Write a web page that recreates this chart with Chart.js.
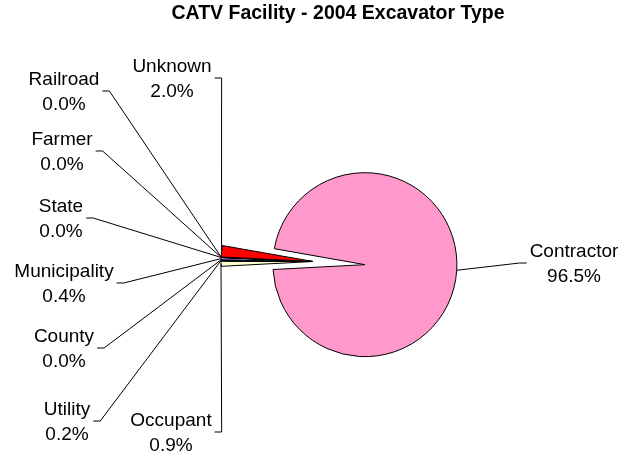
<!DOCTYPE html>
<html>
<head>
<meta charset="utf-8">
<title>CATV Facility - 2004 Excavator Type</title>
<script src="https://cdn.jsdelivr.net/npm/chart.js@4.4.1/dist/chart.umd.min.js"></script>
<style>
  html, body { margin: 0; padding: 0; background: #fff; }
  #wrap { position: relative; width: 631px; height: 456px; }
</style>
</head>
<body>
<div id="wrap"><canvas id="excavatorPie"></canvas></div>
<script>
// -----------------------------
// Data (percent; "0.0%" slices are tiny, not empty)
// -----------------------------
const chartTitle = 'CATV Facility - 2004 Excavator Type';
const categories = ['Contractor', 'Occupant', 'Utility', 'County', 'Municipality', 'State', 'Farmer', 'Railroad', 'Unknown'];
const percentValues = [96.5, 0.9, 0.2, 0.03, 0.4, 0.03, 0.03, 0.03, 2.0];
const sliceColors = ['#FF99CC', '#FFFFCC', '#000080', '#CCFFFF', '#9999FF', '#660066', '#FF8080', '#0066CC', '#FF0000'];

// -----------------------------
// Label layout: centre of the first text line, side where the leader starts
// -----------------------------
const labelLayout = [
    { x: 574, y: 252, side: 'left' },   // Contractor
    { x: 171, y: 421, side: 'right' },  // Occupant
    { x: 67,  y: 410, side: 'right' },  // Utility
    { x: 64,  y: 337, side: 'right' },  // County
    { x: 64,  y: 272, side: 'right' },  // Municipality
    { x: 61,  y: 207, side: 'right' },  // State
    { x: 62,  y: 140, side: 'right' },  // Farmer
    { x: 64,  y: 80,  side: 'right' },  // Railroad
    { x: 172, y: 67,  side: 'right' }   // Unknown
];
const titlePos = { x: 338, y: 14 };

const fontFamily = '"Liberation Sans", Arial, sans-serif';
const labelFont = '19px ' + fontFamily;
const titleFont = 'bold 19.5px ' + fontFamily;
const lineStep = 24.5;
const tickDrop = 11;
const explodeDistance = 52;

// Contractor slice pulled away from the rest
const explodePlugin = {
    id: 'explodeFirst',
    afterDatasetsUpdate(chart) {
        const arc = chart.getDatasetMeta(0).data[0];
        const mid = (arc.startAngle + arc.endAngle) / 2;
        arc.x += Math.cos(mid) * explodeDistance;
        arc.y += Math.sin(mid) * explodeDistance;
    }
};

// Title + data labels with leader lines
const leaderLabelPlugin = {
    id: 'leaderLabels',
    afterDraw(chart) {
        const ctx = chart.ctx;
        const arcs = chart.getDatasetMeta(0).data;
        ctx.save();
        ctx.fillStyle = '#000';
        ctx.strokeStyle = '#000';
        ctx.lineWidth = 1;
        ctx.textAlign = 'center';
        ctx.textBaseline = 'middle';

        ctx.font = titleFont;
        ctx.fillText(chartTitle, titlePos.x, titlePos.y);

        ctx.font = labelFont;
        arcs.forEach((arc, i) => {
            const pos = labelLayout[i];
            const line1 = categories[i];
            const line2 = percentValues[i].toFixed(1) + '%';
            ctx.fillText(line1, pos.x, pos.y);
            ctx.fillText(line2, pos.x, pos.y + lineStep);

            const w = Math.max(ctx.measureText(line1).width, ctx.measureText(line2).width);
            const dir = pos.side === 'right' ? 1 : -1;
            const sx = pos.x + dir * (w / 2 + 3);
            const sy = pos.y + tickDrop;

            const mid = (arc.startAngle + arc.endAngle) / 2;
            const ex = arc.x + Math.cos(mid) * arc.outerRadius;
            const ey = arc.y + Math.sin(mid) * arc.outerRadius;

            ctx.beginPath();
            ctx.moveTo(sx, sy);
            ctx.lineTo(sx + dir * 7, sy);
            ctx.lineTo(ex, ey);
            ctx.stroke();
        });
        ctx.restore();
    }
};

new Chart(document.getElementById('excavatorPie').getContext('2d'), {
    type: 'pie',
    data: {
        labels: categories,
        datasets: [{
            data: percentValues,
            backgroundColor: sliceColors,
            borderColor: '#000',
            borderWidth: 1
        }]
    },
    options: {
        responsive: true,
        maintainAspectRatio: false,
        animation: false,
        events: [],
        rotation: 280,
        radius: 92,
        layout: { padding: { top: 67, right: 5 } },
        plugins: {
            legend: { display: false },
            tooltip: { enabled: false },
            title: { display: false }
        }
    },
    plugins: [explodePlugin, leaderLabelPlugin]
});
</script>
</body>
</html>
